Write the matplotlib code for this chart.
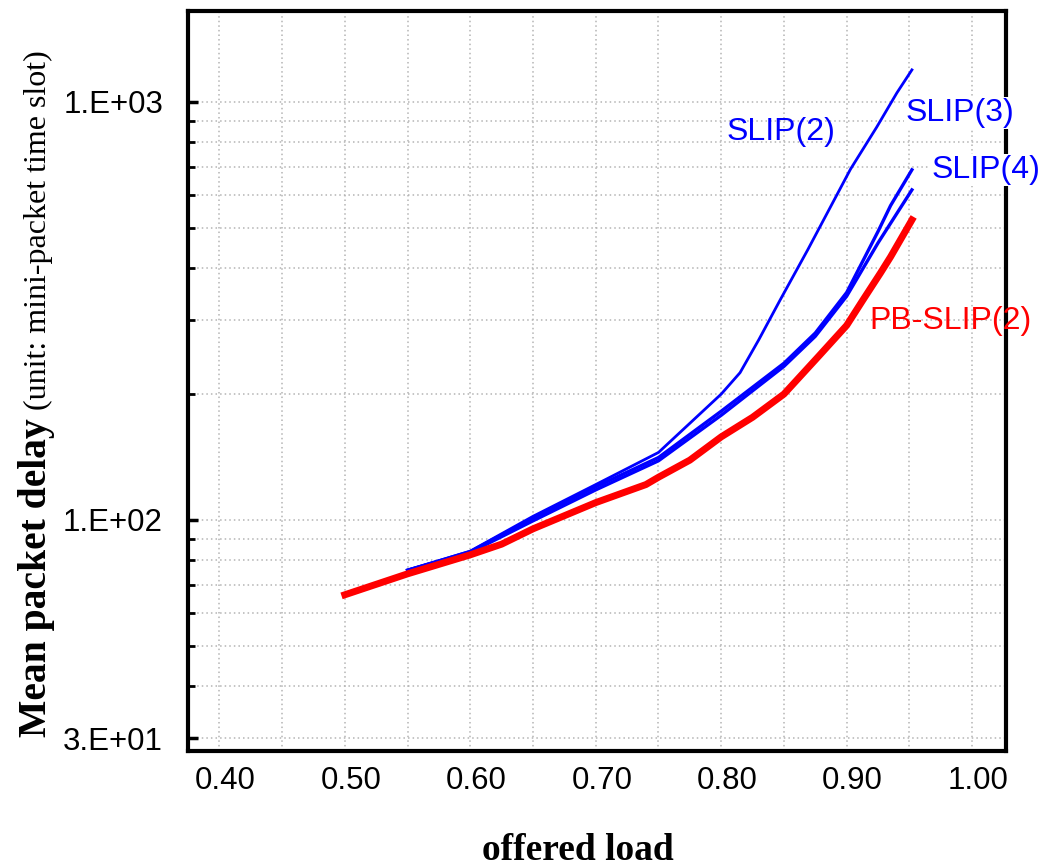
import numpy as np
import matplotlib
matplotlib.use('Agg')
import matplotlib.pyplot as plt
from matplotlib.transforms import ScaledTranslation

# offered load / mean packet delay
slip2_x = [0.55, 0.60, 0.65, 0.70, 0.75, 0.80, 0.815, 0.83, 0.847, 0.869, 0.903, 0.924, 0.94, 0.952]
slip2_y = [75.8, 84.2, 102, 121.5, 145, 200, 225, 270, 336, 443, 690, 871, 1051, 1193]

slip3_x = [0.55, 0.60, 0.65, 0.70, 0.75, 0.80, 0.85, 0.875, 0.90, 0.925, 0.935, 0.952]
slip3_y = [75.8, 84, 101, 120, 141, 182, 237, 280, 350, 490, 565, 688]

slip4_x = [0.55, 0.60, 0.65, 0.70, 0.75, 0.80, 0.85, 0.875, 0.90, 0.925, 0.952]
slip4_y = [75.8, 83.6, 99.5, 118, 138.5, 178, 233, 275, 343, 460, 616]

pb_x = [0.50, 0.55, 0.60, 0.625, 0.65, 0.70, 0.74, 0.75, 0.775, 0.80, 0.825, 0.85,
        0.878, 0.90, 0.913, 0.927, 0.935, 0.952]
pb_y = [66.2, 74.3, 82.5, 87.5, 95.2, 110, 121.5, 126.5, 139, 158, 176, 200,
        247, 292, 336, 390, 426, 522]

x_ticks = [0.40, 0.50, 0.60, 0.70, 0.80, 0.90, 1.00]
x_labels = ['0.40', '0.50', '0.60', '0.70', '0.80', '0.90', '1.00']
y_ticks = [30, 100, 1000]
y_labels = ['3.E+01', '1.E+02', '1.E+03']

sans = ['Liberation Sans', 'DejaVu Sans']
serif = ['Liberation Serif', 'DejaVu Serif']

fig = plt.figure(figsize=(10.41, 8.66), dpi=100)
ax = fig.add_axes([0.1806, 0.1328, 0.9664 - 0.1806, 0.9873 - 0.1328])

ax.set_yscale('log')
ax.set_xlim(0.375, 1.027)
ax.set_ylim(28, 1650)

# ticks and grid
ax.set_xticks(x_ticks)
ax.set_xticklabels(x_labels, family=sans, fontsize=22.5)
ax.set_xticks(np.arange(0.45, 1.0, 0.1), minor=True)
ax.set_yticks(y_ticks)
ax.set_yticklabels(y_labels, family=sans, fontsize=22.5)
ax.set_yticks([40, 50, 60, 70, 80, 90, 200, 300, 400, 500, 600, 700, 800, 900], minor=True)
ax.yaxis.set_minor_formatter(plt.NullFormatter())
ax.grid(True, which='both', color='#b4b4b4', linestyle=(0, (1, 2)), linewidth=1.1, zorder=0)
ax.set_axisbelow(True)

ax.tick_params(axis='x', which='both', length=0, pad=11)
ax.tick_params(axis='y', which='major', direction='in', length=7, width=2.5, pad=18)
ax.tick_params(axis='y', which='minor', direction='in', length=5, width=2)

for lab in ax.get_xticklabels():
    lab.set_transform(lab.get_transform() + ScaledTranslation(0.06, 0, fig.dpi_scale_trans))

for s in ax.spines.values():
    s.set_linewidth(3)
    s.set_zorder(5)

# curves
ax.plot(slip3_x, slip3_y, color='#0000ff', lw=2.4, zorder=3)
ax.plot(slip4_x, slip4_y, color='#0000ff', lw=2.4, zorder=3)
ax.plot(slip2_x, slip2_y, color='#0000ff', lw=2.0, zorder=3)
ax.plot(pb_x, pb_y, color='#ff0000', lw=5, zorder=4)

# curve labels
fig.text(781 / 1041, 1 - 132 / 866, 'SLIP(2)', color='#0000ff', family=sans,
         fontsize=23, ha='center', va='center')
fig.text(960 / 1041, 1 - 113 / 866, 'SLIP(3)', color='#0000ff', family=sans,
         fontsize=23, ha='center', va='center', zorder=10,
         bbox=dict(facecolor='white', edgecolor='none', pad=1))
fig.text(986 / 1041, 1 - 170 / 866, 'SLIP(4)', color='#0000ff', family=sans,
         fontsize=23, ha='center', va='center', zorder=10,
         bbox=dict(facecolor='white', edgecolor='none', pad=1))
fig.text(950 / 1041, 1 - 321 / 866, 'PB-SLIP(2)', color='#ff0000', family=sans,
         fontsize=23, ha='center', va='center', zorder=10)

# axis titles
fig.text(578 / 1041, 1 - 850 / 866, 'offered load', family=serif, fontsize=27,
         fontweight='bold', ha='center', va='center')
fig.text(46 / 1041, 1 - 737 / 866, 'Mean packet delay', family=serif, fontsize=28.5,
         fontweight='bold', rotation=90, rotation_mode='anchor', ha='left', va='baseline')
fig.text(46 / 1041, 1 - 410 / 866, '(unit: mini-packet time slot)', family=serif,
         fontsize=23, rotation=90, rotation_mode='anchor', ha='left', va='baseline')

fig.savefig('out.png', dpi=100)
